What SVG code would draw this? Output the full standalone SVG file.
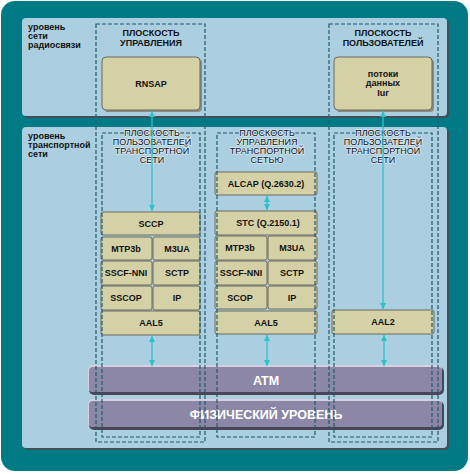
<svg xmlns="http://www.w3.org/2000/svg" width="470" height="474" viewBox="0 0 470 474">
<defs>
<style>
.bg{fill:#007b86}
.panel{fill:#abcfe1}
.pshadow{fill:#3f5058}
.box{fill:#d5d1a7;stroke:#6c6b5e;stroke-width:1}
.bshadow{fill:#8a8a80}
.bar{fill:#8c87a6}
.barhi{fill:#d6d0e0}
.barsh{fill:#4a4658}
.dash{fill:none;stroke:#1e5a6c;stroke-width:1.2;stroke-dasharray:4 2}
.lbl{font-family:"Liberation Sans",Arial,sans-serif;font-weight:bold;font-size:9px;fill:#111}
.ttl{font-family:"Liberation Sans",Arial,sans-serif;font-weight:bold;font-size:9px;fill:#111;text-anchor:middle}
.col{font-family:"Liberation Sans",Arial,sans-serif;font-size:9px;fill:#111;text-anchor:middle;stroke:#d8e8f1;stroke-width:1.6;paint-order:stroke;stroke-linejoin:round}
.bt{font-family:"Liberation Sans",Arial,sans-serif;font-weight:bold;font-size:9px;fill:#111;text-anchor:middle}
.big{font-family:"Liberation Sans",Arial,sans-serif;font-weight:bold;font-size:12.5px;fill:#fff;text-anchor:middle}
.con{stroke:#2cc3c6;stroke-width:1.3;fill:none;marker-start:url(#ah);marker-end:url(#ah)}
</style>
<marker id="ah" viewBox="0 0 6 6" refX="6" refY="3" markerWidth="6" markerHeight="6" markerUnits="userSpaceOnUse" orient="auto-start-reverse">
<path d="M0,0 L6,3 L0,6 z" fill="#2cc3c6"/>
</marker>
</defs>

<rect class="bg" x="1" y="1" width="467" height="470" rx="14"/>

<g id="radio-level">
<rect class="pshadow" x="24" y="20" width="425" height="98" rx="4"/>
<rect class="panel" x="22" y="18" width="425" height="98" rx="4"/>
<text class="lbl" x="28" y="30">уровень</text>
<text class="lbl" x="28" y="39">сети</text>
<text class="lbl" x="28" y="48">радиосвязи</text>
</g>

<g id="transport-level">
<rect class="pshadow" x="24" y="129" width="425" height="321" rx="4"/>
<rect class="panel" x="22" y="127" width="425" height="321" rx="4"/>
<text class="lbl" x="28" y="139">уровень</text>
<text class="lbl" x="28" y="148">транспортной</text>
<text class="lbl" x="28" y="157">сети</text>
</g>

<g id="atm">
<rect class="barsh" x="89" y="367" width="355" height="28" rx="5"/>
<rect class="barhi" x="88" y="365" width="354" height="27" rx="5"/>
<rect class="bar" x="89" y="367" width="353" height="25" rx="4"/>
<text class="big" x="266" y="385">ATM</text>
</g>

<g id="physical">
<rect class="barsh" x="89" y="401" width="355" height="29" rx="5"/>
<rect class="barhi" x="88" y="399" width="354" height="28" rx="5"/>
<rect class="bar" x="89" y="401" width="353" height="26" rx="4"/>
<text class="big" x="266" y="419">ФИЗИЧЕСКИЙ УРОВЕНЬ</text>
</g>

<g id="rnsap">
<rect class="bshadow" x="104" y="59" width="98" height="53" rx="4"/>
<rect class="box" x="102" y="57" width="98" height="53" rx="4"/>
<text class="bt" x="151" y="87">RNSAP</text>
</g>

<g id="iur">
<rect class="bshadow" x="336" y="59" width="98" height="53" rx="4"/>
<rect class="box" x="334" y="57" width="98" height="53" rx="4"/>
<text class="bt" x="383" y="77">потоки</text>
<text class="bt" x="383" y="86">данных</text>
<text class="bt" x="383" y="96">Iur</text>
</g>

<g id="left-stack">
<g id="sccp"><rect class="box" x="101" y="212" width="99" height="23" rx="2"/><text class="bt" x="151" y="227">SCCP</text></g>
<g id="mtp3b-l"><rect class="box" x="101" y="237" width="51" height="23" rx="2"/><text class="bt" x="126" y="252">MTP3b</text></g>
<g id="m3ua-l"><rect class="box" x="153" y="237" width="47" height="23" rx="2"/><text class="bt" x="177" y="252">M3UA</text></g>
<g id="sscf-l"><rect class="box" x="101" y="261" width="51" height="24" rx="2"/><text class="bt" x="126" y="276">SSCF-NNI</text></g>
<g id="sctp-l"><rect class="box" x="153" y="261" width="47" height="24" rx="2"/><text class="bt" x="177" y="276">SCTP</text></g>
<g id="sscop-l"><rect class="box" x="101" y="286" width="51" height="24" rx="2"/><text class="bt" x="126" y="301">SSCOP</text></g>
<g id="ip-l"><rect class="box" x="153" y="286" width="47" height="24" rx="2"/><text class="bt" x="177" y="301">IP</text></g>
<g id="aal5-l"><rect class="box" x="101" y="311" width="99" height="24" rx="2"/><text class="bt" x="151" y="326">AAL5</text></g>
</g>

<g id="mid-stack">
<g id="alcap"><rect class="box" x="215" y="172" width="102" height="23" rx="2"/><text class="bt" x="266" y="187">ALCAP (Q.2630.2)</text></g>
<g id="stc"><rect class="box" x="215" y="211" width="102" height="24" rx="2"/><text class="bt" x="268" y="226">STC (Q.2150.1)</text></g>
<g id="mtp3b-m"><rect class="box" x="215" y="236" width="52" height="24" rx="2"/><text class="bt" x="240" y="251">MTP3b</text></g>
<g id="m3ua-m"><rect class="box" x="268" y="236" width="49" height="24" rx="2"/><text class="bt" x="292" y="251">M3UA</text></g>
<g id="sscf-m"><rect class="box" x="215" y="261" width="52" height="24" rx="2"/><text class="bt" x="241" y="276">SSCF-NNI</text></g>
<g id="sctp-m"><rect class="box" x="268" y="261" width="49" height="24" rx="2"/><text class="bt" x="292" y="276">SCTP</text></g>
<g id="scop-m"><rect class="box" x="215" y="286" width="52" height="23" rx="2"/><text class="bt" x="240" y="301">SCOP</text></g>
<g id="ip-m"><rect class="box" x="268" y="286" width="49" height="23" rx="2"/><text class="bt" x="292" y="301">IP</text></g>
<g id="aal5-m"><rect class="box" x="215" y="311" width="102" height="23" rx="2"/><text class="bt" x="266" y="326">AAL5</text></g>
</g>

<g id="right-stack">
<g id="aal2"><rect class="box" x="332" y="310" width="102" height="24" rx="2"/><text class="bt" x="383" y="325">AAL2</text></g>
</g>

<g id="planes">
<rect class="dash" x="96" y="24" width="109" height="418"/>
<rect class="dash" x="102" y="133" width="98" height="304"/>
<rect class="dash" x="217" y="133" width="98" height="304"/>
<rect class="dash" x="329" y="24" width="109" height="418"/>
<rect class="dash" x="334" y="133" width="98" height="304"/>
</g>

<g id="plane-titles">
<text class="ttl" x="151" y="36">ПЛОСКОСТЬ</text>
<text class="ttl" x="151" y="46">УПРАВЛЕНИЯ</text>
<text class="ttl" x="383" y="36">ПЛОСКОСТЬ</text>
<text class="ttl" x="383" y="46">ПОЛЬЗОВАТЕЛЕЙ</text>
<text class="col" x="152" y="136">ПЛОСКОСТЬ</text>
<text class="col" x="152" y="145">ПОЛЬЗОВАТЕЛЕЙ</text>
<text class="col" x="152" y="154">ТРАНСПОРТНОЙ</text>
<text class="col" x="152" y="163">СЕТИ</text>
<text class="col" x="267" y="136">ПЛОСКОСТЬ</text>
<text class="col" x="267" y="145">УПРАВЛЕНИЯ</text>
<text class="col" x="267" y="154">ТРАНСПОРТНОЙ</text>
<text class="col" x="267" y="163">СЕТЬЮ</text>
<text class="col" x="383" y="136">ПЛОСКОСТЬ</text>
<text class="col" x="383" y="145">ПОЛЬЗОВАТЕЛЕЙ</text>
<text class="col" x="383" y="154">ТРАНСПОРТНОЙ</text>
<text class="col" x="383" y="163">СЕТИ</text>
</g>

<g id="connectors">
<line class="con" x1="152" y1="111" x2="152" y2="211"/>
<line class="con" x1="383" y1="111" x2="383" y2="309"/>
<line class="con" x1="267" y1="196" x2="267" y2="210"/>
<line class="con" x1="152" y1="336" x2="152" y2="366"/>
<line class="con" x1="267" y1="335" x2="267" y2="366"/>
<line class="con" x1="384" y1="335" x2="384" y2="366"/>
</g>
</svg>
